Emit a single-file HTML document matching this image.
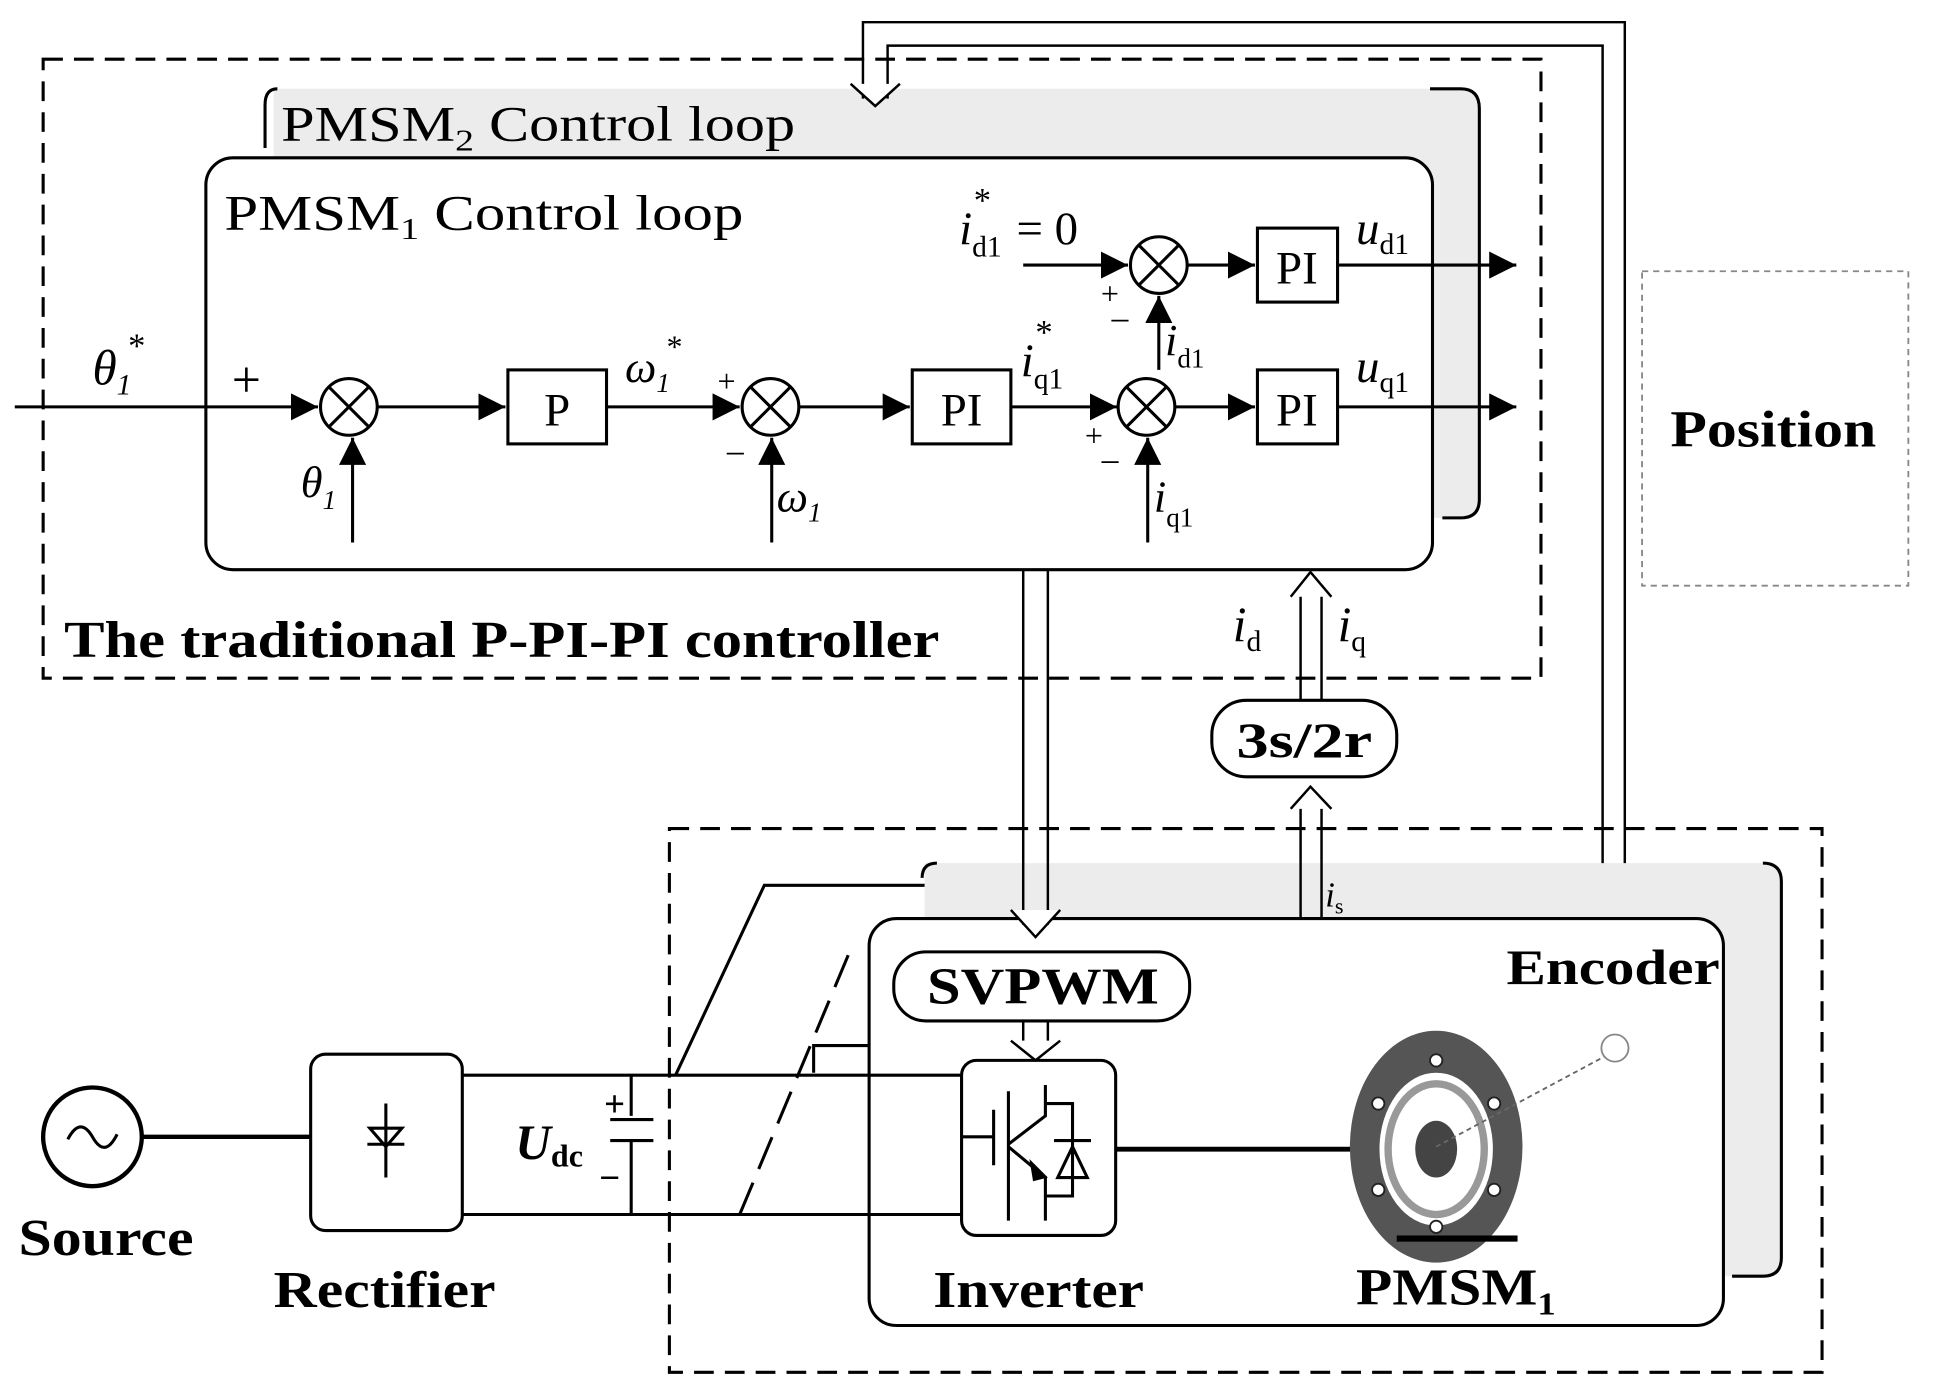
<!DOCTYPE html>
<html><head><meta charset="utf-8"><style>
html,body{margin:0;padding:0;background:#fff;}
svg{display:block;}
text{font-family:"Liberation Serif",serif;fill:#000;}
.b{font-weight:bold;}
.i{font-style:italic;}
</style></head><body>
<svg width="1933" height="1397" viewBox="0 0 1568 1133" preserveAspectRatio="none" xmlns="http://www.w3.org/2000/svg">
<defs>
<marker id="A" viewBox="0 0 10 10" refX="10" refY="5" markerWidth="22" markerHeight="22" orient="auto" markerUnits="userSpaceOnUse"><path d="M0,0L10,5L0,10z"/></marker>
</defs>
<rect width="1568" height="1133" fill="#fff"/>
<rect x="35" y="48" width="1215" height="502" fill="none" stroke="#000" stroke-width="2.5" stroke-dasharray="16,9"/>
<path d="M222,72 H1185 Q1200,72 1200,88 V405 Q1200,420 1185,420 H222 Z" fill="#ececec"/>
<path d="M1160,72 H1185 Q1200,72 1200,88 V405 Q1200,420 1185,420 H1170" fill="none" stroke="#000" stroke-width="2.5"/>
<path d="M225,72 Q215,72 215,85 V120" fill="none" stroke="#000" stroke-width="2.5"/>
<text x="228" y="114" font-size="40" textLength="417" lengthAdjust="spacingAndGlyphs">PMSM<tspan font-size="25" dy="8">2</tspan><tspan dy="-8"> Control loop</tspan></text>
<rect x="167" y="128" width="995" height="334" rx="22" fill="#fff" stroke="#000" stroke-width="2.5"/>
<text x="182" y="186" font-size="40" textLength="421" lengthAdjust="spacingAndGlyphs">PMSM<tspan font-size="25" dy="8">1</tspan><tspan dy="-8"> Control loop</tspan></text>
<text x="52" y="533" font-size="42" class="b" textLength="710" lengthAdjust="spacingAndGlyphs">The traditional P-PI-PI controller</text>
<path d="M700,80 V18 H1318 V745 M720,80 V37 H1300 V745" fill="none" stroke="#000" stroke-width="2"/>
<path d="M690,68 L710,86 L730,68" fill="#fff" stroke="#000" stroke-width="2"/>
<g stroke="#000" stroke-width="2.5" fill="none">
<line x1="12" y1="330" x2="258" y2="330" marker-end="url(#A)"/>
<circle cx="283" cy="330" r="23" fill="#fff"/>
<path d="M267,314 L299,346 M299,314 L267,346"/>
<line x1="306" y1="330" x2="410" y2="330" marker-end="url(#A)"/>
<rect x="412" y="300" width="80" height="60" fill="#fff"/>
<line x1="492" y1="330" x2="600" y2="330" marker-end="url(#A)"/>
<circle cx="625" cy="330" r="23" fill="#fff"/>
<path d="M609,314 L641,346 M641,314 L609,346"/>
<line x1="648" y1="330" x2="738" y2="330" marker-end="url(#A)"/>
<rect x="740" y="300" width="80" height="60" fill="#fff"/>
<line x1="820" y1="330" x2="906" y2="330" marker-end="url(#A)"/>
<circle cx="930" cy="330" r="23" fill="#fff"/>
<path d="M914,314 L946,346 M946,314 L914,346"/>
<line x1="953" y1="330" x2="1018" y2="330" marker-end="url(#A)"/>
<rect x="1020" y="300" width="65" height="60" fill="#fff"/>
<line x1="1085" y1="330" x2="1230" y2="330" marker-end="url(#A)"/>
<line x1="830" y1="215" x2="915" y2="215" marker-end="url(#A)"/>
<circle cx="940" cy="215" r="23" fill="#fff"/>
<path d="M924,199 L956,231 M956,199 L924,231"/>
<line x1="963" y1="215" x2="1018" y2="215" marker-end="url(#A)"/>
<rect x="1020" y="185" width="65" height="60" fill="#fff"/>
<line x1="1085" y1="215" x2="1230" y2="215" marker-end="url(#A)"/>
<line x1="286" y1="440" x2="286" y2="355" marker-end="url(#A)"/>
<line x1="626" y1="440" x2="626" y2="355" marker-end="url(#A)"/>
<line x1="931" y1="440" x2="931" y2="355" marker-end="url(#A)"/>
<line x1="940" y1="300" x2="940" y2="240" marker-end="url(#A)"/>
</g>
<text x="452" y="345" font-size="38" text-anchor="middle">P</text>
<text x="780" y="345" font-size="38" text-anchor="middle">PI</text>
<text x="1052" y="345" font-size="38" text-anchor="middle">PI</text>
<text x="1052" y="230" font-size="38" text-anchor="middle">PI</text>
<text x="75" y="312" font-size="40" class="i">θ<tspan font-size="24" dy="8">1</tspan><tspan font-size="28" dy="-30" dx="-4">*</tspan></text>
<text x="188" y="322" font-size="42">+</text>
<text x="244" y="403" font-size="36" class="i">θ<tspan font-size="22" dy="10">1</tspan></text>
<text x="507" y="310" font-size="36" class="i">ω<tspan font-size="22" dy="8">1</tspan><tspan font-size="26" dy="-28" dx="-4">*</tspan></text>
<text x="582" y="318" font-size="26">+</text>
<text x="588" y="378" font-size="30">−</text>
<text x="630" y="415" font-size="36" class="i">ω<tspan font-size="22" dy="8">1</tspan></text>
<text x="828" y="305" font-size="38" class="i">i<tspan font-size="24" dy="10" font-style="normal">q1</tspan><tspan font-size="28" dy="-36" dx="-24">*</tspan></text>
<text x="880" y="362" font-size="26">+</text>
<text x="892" y="385" font-size="30">−</text>
<text x="936" y="415" font-size="36" class="i">i<tspan font-size="22" dy="12" font-style="normal">q1</tspan></text>
<text x="945" y="288" font-size="36" class="i">i<tspan font-size="22" dy="10" font-style="normal">d1</tspan></text>
<text x="893" y="247" font-size="26">+</text>
<text x="900" y="270" font-size="30">−</text>
<text x="778" y="198" font-size="38" class="i">i<tspan font-size="24" dy="10" font-style="normal">d1</tspan><tspan font-size="28" dy="-36" dx="-24">*</tspan><tspan font-style="normal" dy="26" dx="22">= 0</tspan></text>
<text x="1100" y="198" font-size="38" class="i">u<tspan font-size="24" dy="8" font-style="normal">d1</tspan></text>
<text x="1100" y="310" font-size="38" class="i">u<tspan font-size="24" dy="8" font-style="normal">q1</tspan></text>
<rect x="1332" y="220" width="216" height="255" fill="none" stroke="#888" stroke-width="1.5" stroke-dasharray="5,4"/>
<text x="1355" y="362" font-size="42" class="b" textLength="167" lengthAdjust="spacingAndGlyphs">Position</text>
<rect x="543" y="672" width="935" height="441" fill="none" stroke="#000" stroke-width="2.5" stroke-dasharray="16,9"/>
<path d="M750,700 H1430 Q1445,700 1445,715 V1020 Q1445,1035 1430,1035 H750 Z" fill="#ececec"/>
<path d="M1430,700 Q1445,700 1445,715 V1020 Q1445,1035 1430,1035 H1405" fill="none" stroke="#000" stroke-width="2.5"/>
<path d="M760,700 Q748,700 748,712" fill="none" stroke="#000" stroke-width="2.5"/>
<rect x="705" y="745" width="693" height="330" rx="22" fill="#fff" stroke="#000" stroke-width="2.5"/>
<text x="1222" y="798" font-size="40" class="b" textLength="173" lengthAdjust="spacingAndGlyphs">Encoder</text>
<g stroke="#000" stroke-width="2" fill="none">
<path d="M830,462 V750 M850,462 V750"/>
<path d="M820,738 L840,760 L860,738" fill="#fff"/>
<path d="M1055,745 V648 M1072,745 V648"/>
<path d="M1047,656 L1063,638 L1080,656" fill="#fff"/>
<path d="M1055,568 V475 M1072,568 V475"/>
<path d="M1047,484 L1063,464 L1080,484" fill="#fff"/>
<path d="M830,828 V852 M850,828 V852"/>
<path d="M820,844 L840,860 L860,844" fill="#fff"/>
</g>
<text x="1000" y="520" font-size="40" class="i">i<tspan font-size="24" dy="8" font-style="normal">d</tspan></text>
<text x="1085" y="520" font-size="40" class="i">i<tspan font-size="24" dy="8" font-style="normal">q</tspan></text>
<text x="1075" y="735" font-size="28" class="i">i<tspan font-size="18" dy="6" font-style="normal">s</tspan></text>
<rect x="983" y="568" width="150" height="62" rx="28" fill="#fff" stroke="#000" stroke-width="2.5"/>
<text x="1003" y="614" font-size="40" class="b" textLength="110" lengthAdjust="spacingAndGlyphs">3s/2r</text>
<rect x="725" y="772" width="240" height="56" rx="26" fill="#fff" stroke="#000" stroke-width="2.5"/>
<text x="752" y="814" font-size="42" class="b" textLength="188" lengthAdjust="spacingAndGlyphs">SVPWM</text>
<g stroke="#000" stroke-width="2.5" fill="none">
<circle cx="75" cy="922" r="40" stroke-width="3.5"/>
<path d="M55,924 Q65,905 75,922 Q85,940 95,920"/>
<line x1="115" y1="922" x2="252" y2="922" stroke-width="3.5"/>
<rect x="252" y="855" width="123" height="143" rx="12"/>
<path d="M313,895 V955 M298,928 H328 M300,915 L313,930 L326,915 Z"/>
<line x1="375" y1="872" x2="780" y2="872"/>
<line x1="375" y1="985" x2="780" y2="985"/>
<line x1="512" y1="872" x2="512" y2="905"/>
<line x1="495" y1="908" x2="530" y2="908"/>
<line x1="495" y1="925" x2="530" y2="925"/>
<line x1="512" y1="925" x2="512" y2="985"/>
<path d="M548,872 L620,718 H750"/>
<path d="M600,985 L690,770" stroke-dasharray="28,12"/>
<path d="M660,870 V848 H705"/>
<rect x="780" y="860" width="125" height="142" rx="12"/>
<path d="M805,922 H780 M806,900 V945 M818,885 V990 M818,928 L848,905 V880 M818,930 L848,955 V990 M848,895 H870 V970 H848 M855,925 H885 M858,955 L870,930 L882,955 Z"/>
<line x1="905" y1="932" x2="1100" y2="932" stroke-width="4"/>
</g>
<path d="M835,940 L850,955 L838,958 Z" fill="#000"/>
<text x="490" y="905" font-size="30" class="b">+</text>
<text x="486" y="965" font-size="30" class="b">−</text>
<text x="418" y="940" font-size="40" class="b i">U<tspan font-size="26" dy="6" font-style="normal">dc</tspan></text>
<text x="15" y="1018" font-size="42" class="b" textLength="142" lengthAdjust="spacingAndGlyphs">Source</text>
<text x="222" y="1060" font-size="42" class="b" textLength="180" lengthAdjust="spacingAndGlyphs">Rectifier</text>
<text x="757" y="1060" font-size="42" class="b" textLength="171" lengthAdjust="spacingAndGlyphs">Inverter</text>
<text x="1100" y="1058" font-size="42" class="b" textLength="162" lengthAdjust="spacingAndGlyphs">PMSM<tspan font-size="26" dy="8">1</tspan></text>
<ellipse cx="1165" cy="930" rx="70" ry="94" fill="#555"/>
<ellipse cx="1165" cy="932" rx="46" ry="62" fill="#fff"/>
<ellipse cx="1165" cy="932" rx="39" ry="53" fill="none" stroke="#999" stroke-width="6"/>
<ellipse cx="1165" cy="932" rx="17" ry="23" fill="#444"/>
<g fill="#fff" stroke="#222" stroke-width="1.5">
<circle cx="1165" cy="860" r="5"/><circle cx="1165" cy="995" r="5"/>
<circle cx="1118" cy="895" r="5"/><circle cx="1212" cy="895" r="5"/>
<circle cx="1118" cy="965" r="5"/><circle cx="1212" cy="965" r="5"/>
</g>
<rect x="1133" y="1002" width="98" height="5" fill="#000"/>
<line x1="1165" y1="930" x2="1305" y2="855" stroke="#666" stroke-width="1.5" stroke-dasharray="4,3"/>
<circle cx="1310" cy="850" r="11" fill="#fff" stroke="#888" stroke-width="1.5"/>
</svg>
</body></html>
